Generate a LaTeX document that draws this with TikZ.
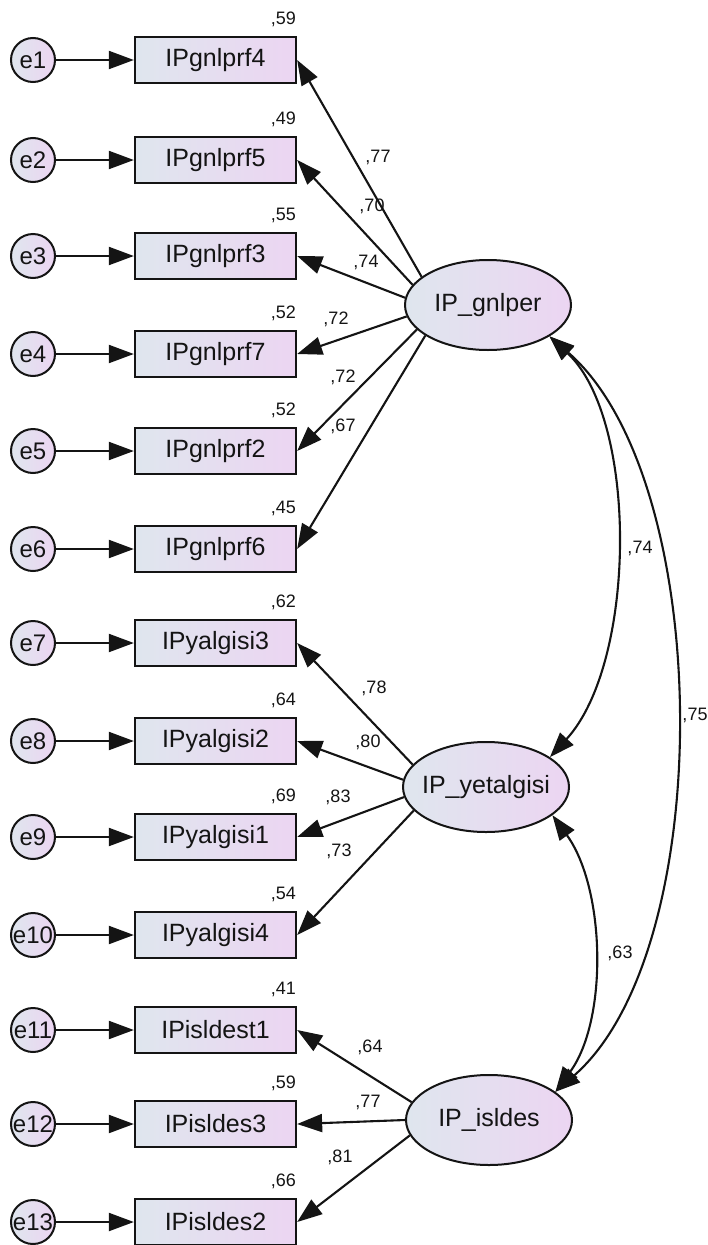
\documentclass[tikz,border=0pt]{standalone}
\usepackage{fontspec}
\setmainfont{Liberation Sans}
\usetikzlibrary{arrows.meta,shapes.geometric}
\definecolor{shadeL}{RGB}{223,230,238}
\definecolor{shadeR}{RGB}{236,213,242}
\definecolor{ink}{RGB}{20,20,20}
\begin{document}
\begin{tikzpicture}[x=1pt,y=-1pt,
  obs/.style={draw=ink, line width=2.3pt, rectangle, minimum width=161pt,
    minimum height=46pt, inner sep=0pt, left color=shadeL, right color=shadeR,
    text=ink, font=\fontsize{25}{30}\selectfont},
  err/.style={draw=ink, line width=2pt, circle, minimum size=44pt, inner sep=0pt,
    left color=shadeL, right color=shadeR, text=ink, font=\fontsize{24}{28}\selectfont},
  lat/.style={draw=ink, line width=2pt, ellipse, minimum width=166pt,
    minimum height=90pt, inner sep=0pt, left color=shadeL, right color=shadeR,
    text=ink, font=\fontsize{25}{30}\selectfont},
  tip/.tip={Triangle[length=25pt,width=18pt]},
  load/.style={line width=2.1pt, draw=ink, -tip},
  cov/.style={line width=2.1pt, draw=ink, tip-tip},
  num/.style={inner sep=0pt, text=ink, font=\fontsize{18}{21}\selectfont}
]
\useasboundingbox (0,0) rectangle (707,1245);

% latent factors
\node[lat] (L1) at (488,305)  {\makebox[0pt]{IP\_gnlper}};
\node[lat] (L2) at (486,787)  {\makebox[0pt]{IP\_yetalgisi}};
\node[lat] (L3) at (489,1120) {\makebox[0pt]{IP\_isldes}};

% indicators with their error terms and squared multiple correlations
\foreach \i/\y/\t/\r in {1/60/IPgnlprf4/59, 2/160/IPgnlprf5/49, 3/256/IPgnlprf3/55,
    4/354/IPgnlprf7/52, 5/451/IPgnlprf2/52, 6/549/IPgnlprf6/45,
    7/643/IPyalgisi3/62, 8/741/IPyalgisi2/64, 9/837/IPyalgisi1/69,
    10/935/IPyalgisi4/54, 11/1030/IPisldest1/41, 12/1124/IPisldes3/59,
    13/1222/IPisldes2/66}{
  \node[obs] (b\i) at (215.5,\y) {\t};
  \node[err] (e\i) at (33,\y) {\makebox[0pt]{e\i}};
  \node[num, anchor=east] (r\i) at (296,\y-41) {,\r};
  \draw[load] (e\i) -- (b\i);
}

% factor loadings
\draw[load] (L1.157) -- (b1.east);
\draw[load] (L1.165) -- (b2.east);
\draw[load] (L1.175) -- (b3.east);
\draw[load] (L1.188) -- (b4.east);
\draw[load] (L1.199) -- (b5.east);
\draw[load] (L1.206) -- (b6.east);
\draw[load] (L2.163) -- (b7.east);
\draw[load] (L2.175) -- (b8.east);
\draw[load] (L2.187) -- (b9.east);
\draw[load] (L2.198) -- (b10.east);
\draw[load] (L3.167) -- (b11.east);
\draw[load] (L3.180) -- (b12.east);
\draw[load] (L3.191) -- (b13.east);

\node[num] (w1)  at (378,157)  {,77};
\node[num] (w2)  at (372,206)  {,70};
\node[num] (w3)  at (366,262)  {,74};
\node[num] (w4)  at (336,319)  {,72};
\node[num] (w5)  at (343,377)  {,72};
\node[num] (w6)  at (343,426)  {,67};
\node[num] (w7)  at (374,688)  {,78};
\node[num] (w8)  at (368,742)  {,80};
\node[num] (w9)  at (338,797)  {,83};
\node[num] (w10) at (339,851)  {,73};
\node[num] (w11) at (370,1047) {,64};
\node[num] (w12) at (368,1102) {,77};
\node[num] (w13) at (340,1157) {,81};

% factor covariances
\draw[cov] (L1.-27) .. controls +(89,83) and +(87,-95) .. (L2.25);
\draw[cov] (L1.-27) .. controls +(165,143) and +(163,-142) .. (L3.23);
\draw[cov] (L2.-23) .. controls +(53,73) and +(53,-72) .. (L3.23);

\node[num] (c12) at (640,548) {,74};
\node[num] (c13) at (695,715) {,75};
\node[num] (c23) at (620,953) {,63};
\end{tikzpicture}
\end{document}
